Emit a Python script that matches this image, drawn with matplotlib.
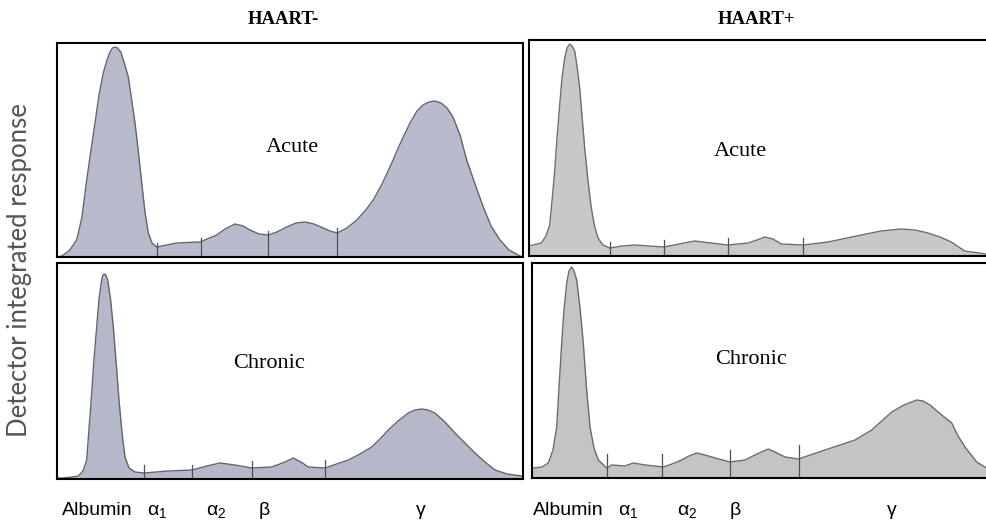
import matplotlib.pyplot as plt

plt.rcParams['mathtext.fontset'] = 'custom'
plt.rcParams['mathtext.rm'] = 'Liberation Sans'
plt.rcParams['mathtext.it'] = 'Liberation Sans'

# traces: x = px from the panel's left edge, y = px above its bottom
tl_x = [0, 4.7, 12, 19.7, 25, 29.7, 34, 38, 42, 46.3, 50, 53, 55.5, 58, 60.5, 63.7, 67, 71.3,
        74.5, 78, 81.5, 84.7, 88, 91.3, 95, 99.7, 119.7, 143, 159.7, 168, 178, 186, 193, 202,
        211.3, 220, 229.7, 239, 248, 257, 266.3, 273, 280.3, 290, 299.7, 308, 316.3, 325, 333,
        343, 353, 360, 366, 372, 378, 384, 390, 396, 403, 409.7, 418, 426.3, 434, 443, 452,
        463, 466]
tl_y = [0, 1, 6, 17, 40, 77, 107, 134, 162, 184, 197, 205, 209, 210, 209, 205, 195, 180,
        158, 134, 104, 74, 45, 24, 14, 10, 14, 15, 22, 28, 33, 31, 27, 23,
        22, 25, 30, 34, 35, 33, 29, 26, 24, 29, 37, 46, 57, 73, 90,
        113, 134, 146, 152, 155, 156, 154, 149, 140, 122, 97, 73, 50, 31, 17, 7,
        1, 0]
tl_ticks = [100, 144, 211, 280]
tl_tick_h = [14, 19, 26, 29]

tr_x = [0, 12.3, 17, 20.7, 23, 25.7, 28, 30.7, 33, 35.7, 38, 40.7, 43, 45.7, 48, 50.7, 53,
        55.7, 59, 62.3, 65.5, 69, 74, 80.7, 93, 105.7, 120, 135, 150, 165.7, 182, 199, 219,
        228, 235.7, 244, 252.3, 274.3, 299, 332.3, 352, 372.3, 386, 399, 411, 422.3, 435.7,
        457]
tr_y = [10, 13, 20, 31, 55, 85, 118, 151, 178, 198, 208, 212, 210, 205, 190, 168, 140,
        108, 75, 48, 30, 18, 11, 8, 10, 11, 10, 9, 12, 15, 13, 11, 13,
        16, 19, 17, 12, 11, 14, 21, 25, 27, 26, 23, 19, 14, 5,
        2]
tr_ticks = [81, 135, 199, 274]
tr_tick_h = [14, 16, 18, 18]

bl_x = [0, 5, 15, 21.3, 26, 29.7, 32, 34.7, 37, 39.7, 42, 44.7, 46, 47.3, 48.8, 50.7, 53.5,
        56.3, 59, 62, 65, 68, 72, 78, 87.3, 111.3, 134.7, 150, 163, 178, 194.7, 214.7, 228,
        236.3, 244, 251.3, 268, 291.3, 303, 314.7, 323, 331.3, 341, 351.3, 358, 364.7, 371,
        378, 388, 398, 408, 418, 428, 438, 450, 464.7, 466]
bl_y = [1, 1, 2, 3, 8, 19, 50, 86, 120, 152, 180, 199, 204, 205, 204, 199, 180,
        152, 118, 79, 46, 22, 11, 7, 6, 8, 9, 13, 16, 14, 11, 12, 17,
        21, 17, 12, 11, 19, 25, 32, 40, 49, 58, 66, 69, 70, 69,
        66, 57, 46, 36, 26, 17, 9, 5, 3, 2]
bl_ticks = [87, 135, 195, 268]
bl_tick_h = [14, 14, 18, 19]

br_x = [0, 1.3, 10, 16.3, 21, 24.7, 27, 29.7, 32, 34.7, 37, 39.7, 42, 44.7, 48, 51.3, 54.5,
        58, 62, 66.3, 74.7, 79.7, 93, 101.3, 113, 131.3, 140, 149.7, 157, 164.7, 173, 183,
        198, 213, 225, 236.3, 245, 253, 266.3, 293, 323, 339.7, 359.7, 372, 384.7, 391, 398,
        409.7, 419.7, 426, 433, 444.7, 454.7]
br_y = [10, 10, 11, 15, 28, 51, 90, 135, 168, 195, 207, 211, 207, 198, 170, 135, 90,
        51, 30, 18, 10, 13, 12, 15, 13, 11, 14, 18, 22, 25, 23, 20,
        16, 18, 24, 29, 25, 21, 19, 28, 38, 48, 66, 73, 78, 77, 73,
        63, 55, 42, 31, 16, 10]
br_ticks = [75, 130, 198, 267]
br_tick_h = [24, 24, 28, 33]

col_titles = ['HAART-', 'HAART+']
row_labels = ['Acute', 'Chronic']
fractions = ['Albumin', r'$\alpha_1$', r'$\alpha_2$', 'β', 'γ']

W, H = 986, 521
fig = plt.figure(figsize=(W / 100, H / 100), dpi=100)


def panel(l, t, r, b, xs, ys, ticks, tick_h, face, edge):
    ax = fig.add_axes([l / W, 1 - b / H, (r - l) / W, (b - t) / H])
    ax.fill_between(xs, ys, 0, color=face, lw=0)
    ax.plot(xs, ys, color=edge, lw=1)
    for tx, th in zip(ticks, tick_h):
        ax.plot([tx, tx], [0, th], color='#505050', lw=0.9)
    ax.set_xlim(0, r - l)
    ax.set_ylim(0, b - t)
    ax.set_xticks([])
    ax.set_yticks([])
    for s in ax.spines.values():
        s.set_linewidth(1.5)
        s.set_color('black')
    return ax


panel(57, 43, 523, 257, tl_x, tl_y, tl_ticks, tl_tick_h, '#b8bbcb', '#62646f')
panel(529, 40, 990, 256, tr_x, tr_y, tr_ticks, tr_tick_h, '#c8c8c8', '#6e6e6e')
panel(57, 263, 523, 479, bl_x, bl_y, bl_ticks, bl_tick_h, '#b5b8c9', '#62646f')
panel(532, 263, 990, 478, br_x, br_y, br_ticks, br_tick_h, '#c4c4c4', '#6a6a6a')


def put(x, y, s, **kw):
    fig.text(x / W, 1 - y / H, s, **kw)


serif = 'Liberation Serif'
put(283, 20, col_titles[0], family=serif, weight='bold', fontsize=13.5, ha='center', va='center')
put(757, 20, col_titles[1], family=serif, weight='bold', fontsize=13.5, ha='center', va='center')
put(292, 147, row_labels[0], family=serif, fontsize=16, ha='center', va='center')
put(740, 151, row_labels[0], family=serif, fontsize=16, ha='center', va='center')
put(269, 364, row_labels[1], family=serif, fontsize=16, ha='center', va='center')
put(751, 359, row_labels[1], family=serif, fontsize=16, ha='center', va='center')

put(20, 270, 'Detector integrated response', family='Lato', fontsize=18.5, color='#555555',
    rotation=90, ha='center', va='center')

label_x = [62, 157, 216, 264, 421]
for off in (0, 471):
    for i, (lab, lx) in enumerate(zip(fractions, label_x)):
        put(lx + off, 515, lab, family='Liberation Sans', fontsize=14,
            ha='left' if i == 0 else 'center', va='baseline')

fig.savefig('out.png', dpi=100)
